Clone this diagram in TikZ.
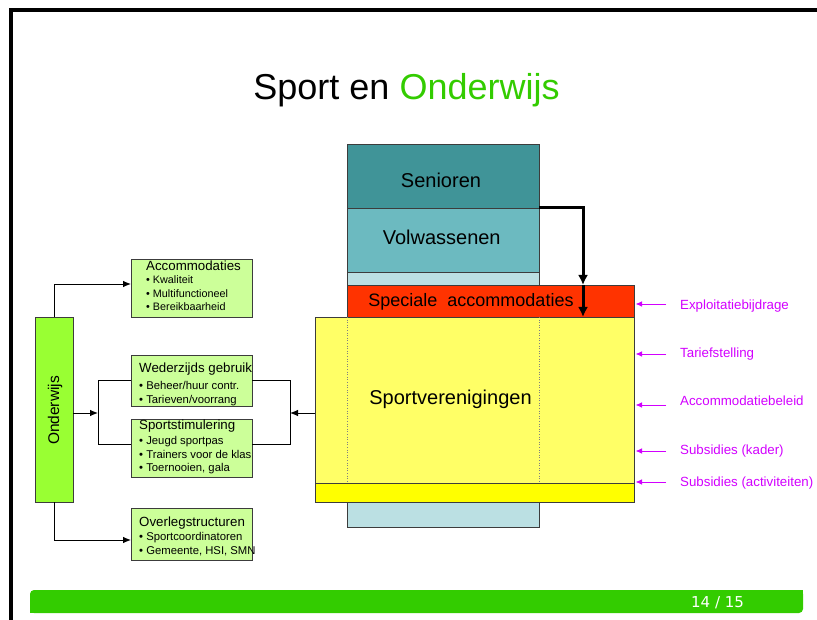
\documentclass[tikz,border=0pt]{standalone}
\usepackage{fontspec}
\setmainfont{Liberation Sans}
\newfontfamily\footfont{DejaVu Sans}
\usetikzlibrary{arrows.meta,calc}
\definecolor{csen}{RGB}{64,148,152}
\definecolor{cvol}{RGB}{108,186,192}
\definecolor{clight}{RGB}{187,224,227}
\definecolor{cred}{RGB}{255,51,0}
\definecolor{cyel}{RGB}{255,255,102}
\definecolor{cyel2}{RGB}{255,255,0}
\definecolor{cond}{RGB}{153,255,51}
\definecolor{cbox}{RGB}{204,255,153}
\definecolor{tgreen}{RGB}{51,204,0}
\definecolor{cmag}{RGB}{210,0,255}
\definecolor{cedge}{RGB}{60,60,60}
\newcommand\fsz[1]{\fontsize{#1}{#1}\selectfont}
\begin{document}
\begin{tikzpicture}[x=1pt,y=-1pt,
  blk/.style={draw=cedge,line width=0.8pt,inner sep=0pt,outer sep=0pt},
  gbox/.style={draw=cedge,line width=0.8pt,fill=cbox,inner sep=0pt,outer sep=0pt,minimum width=121,anchor=center},
  bigtxt/.style={anchor=base,inner sep=0pt,font=\fsz{20}},
  ttl/.style={anchor=base west,inner sep=0pt,font=\fsz{13.3}},
  itm/.style={anchor=base west,inner sep=0pt,font=\fsz{11.3}},
  lab/.style={anchor=base west,inner sep=0pt,text=cmag,font=\fsz{13.3}},
  conn/.style={draw=black,line width=0.9pt,-{Latex[length=8pt,width=6.5pt]}},
  lin/.style={draw=black,line width=0.9pt},
  bigarr/.style={draw=black,line width=3pt,-{Latex[length=10pt,width=10pt]}},
  marrow/.style={draw=cmag,line width=0.9pt,-{Latex[length=6.5pt,width=5.5pt]}}]
\useasboundingbox (0,0) rectangle (817,620);
% frame
\fill[black] (9,8) rectangle (817,12);
\fill[black] (9,8) rectangle (13,620);
% footer
\fill[tgreen,rounded corners=4pt] (30,590) rectangle (803,613);
\fill[tgreen] (30,603) rectangle (42,613);
\fill[tgreen] (791,590) rectangle (803,600);
\node[anchor=base west,inner sep=0pt,text=white,font=\footfont\fsz{15}] (pg) at (691,607) {14 / 15};
% title
\node[anchor=base,inner sep=0pt,font=\fsz{36}] (title) at (406.5,99.3) {Sport en \textcolor{tgreen}{Onderwijs}};
% column
\node[blk,fill=csen,minimum width=192,minimum height=64] (sen) at (443,176) {};
\node[blk,fill=cvol,minimum width=192,minimum height=64] (vol) at (443,240) {};
\node[blk,fill=clight,minimum width=192,minimum height=13] (gap) at (443,278.5) {};
\node[blk,fill=clight,minimum width=192,minimum height=25] (low) at (443,514.5) {};
\node[blk,fill=cred,minimum width=287,minimum height=32] (spec) at (490.5,301) {};
\node[blk,fill=cyel,minimum width=319,minimum height=166] (sv) at (474.5,400) {};
\node[blk,fill=cyel2,minimum width=319,minimum height=19] (strip) at (474.5,492.5) {};
\draw[gray,dotted,line width=0.6pt] (sen.west |- sv.north) -- (sen.west |- sv.south);
\draw[gray,dotted,line width=0.6pt] (sen.east |- sv.north) -- (sen.east |- sv.south);
\node[bigtxt] (tsen) at (441,187.5) {Senioren};
\node[bigtxt] (tvol) at (441.7,245) {Volwassenen};
\node[bigtxt,font=\fsz{18}] (tspec) at (471,306.7) {Speciale\ \ accommodaties};
\node[bigtxt] (tsv) at (450.5,405) {Sportverenigingen};
% black arrow
\coordinate (k) at (583,285);
\draw[bigarr] (sen.south east) -| (k);
\draw[bigarr] (k) -- (k |- spec.south);
% magenta labels
\node[lab] (l1) at (680,309.3) {Exploitatiebijdrage};
\node[lab] (l2) at (680,357.3) {Tariefstelling};
\node[lab] (l3) at (680,406) {Accommodatiebeleid};
\node[lab] (l4) at (680,454.3) {Subsidies (kader)};
\node[lab] (l5) at (680,486.7) {Subsidies (activiteiten)};
\coordinate (a1) at (666,304);
\coordinate (a2) at (666,354);
\coordinate (a3) at (666,405);
\coordinate (a4) at (666,451);
\coordinate (a5) at (666,482);
\foreach \i in {1,...,5}{\draw[marrow,shorten >=1.5pt] (a\i) -- (sv.east |- a\i);}
% left side
\node[draw=cedge,line width=0.8pt,fill=cond,inner sep=0pt,minimum width=38,minimum height=185] (ond) at (54,409.5) {};
\node[rotate=90,inner sep=0pt,font=\fsz{15.5}] (tond) at (55,410.5) {Onderwijs};
\node[gbox,minimum height=58] (acc) at (191.5,288) {};
\node[gbox,minimum height=51] (wed) at (191.5,380.5) {};
\node[gbox,minimum height=58] (sps) at (191.5,448) {};
\node[gbox,minimum height=52] (ovl) at (191.5,534) {};
\node[ttl] (acc0) at (146,270.5) {Accommodaties};
\node[itm,font=\fsz{10.8}] (acc1) at (146,284) {\textbullet\ Kwaliteit};
\node[itm,font=\fsz{10.8}] (acc2) at (146,297.3) {\textbullet\ Multifunctioneel};
\node[itm,font=\fsz{10.8}] (acc3) at (146,310.7) {\textbullet\ Bereikbaarheid};
\node[ttl] (wed0) at (139,373) {Wederzijds gebruik};
\node[itm] (wed1) at (139,390) {\textbullet\ Beheer/huur contr.};
\node[itm] (wed2) at (139,403.3) {\textbullet\ Tarieven/voorrang};
\node[ttl] (sps0) at (139,429.8) {Sportstimulering};
\node[itm] (sps1) at (139,444.7) {\textbullet\ Jeugd sportpas};
\node[itm] (sps2) at (139,458) {\textbullet\ Trainers voor de klas};
\node[itm] (sps3) at (139,471.3) {\textbullet\ Toernooien, gala};
\node[ttl] (ovl0) at (139,526.5) {Overlegstructuren};
\node[itm] (ovl1) at (139,540) {\textbullet\ Sportcoordinatoren};
\node[itm] (ovl2) at (139,554) {\textbullet\ Gemeente, HSI, SMN};
% connectors
\draw[conn] (ond.north) |- ([yshift=4pt]acc.west);
\draw[conn] (ond.south) |- ([yshift=-6pt]ovl.west);
\coordinate (lj) at (98,413);
\coordinate (rj) at (290,413);
\coordinate (spw) at ([yshift=4pt]sps.west);
\coordinate (spe) at ([yshift=4pt]sps.east);
\draw[conn] (ond.east |- lj) -- (lj);
\draw[lin] (wed.west) -- (wed.west -| lj) -- (lj |- spw) -- (spw);
\draw[lin] (wed.east) -- (wed.east -| rj) -- (rj |- spe) -- (spe);
\draw[conn] (sv.west |- rj) -- (rj);
\end{tikzpicture}
\end{document}
